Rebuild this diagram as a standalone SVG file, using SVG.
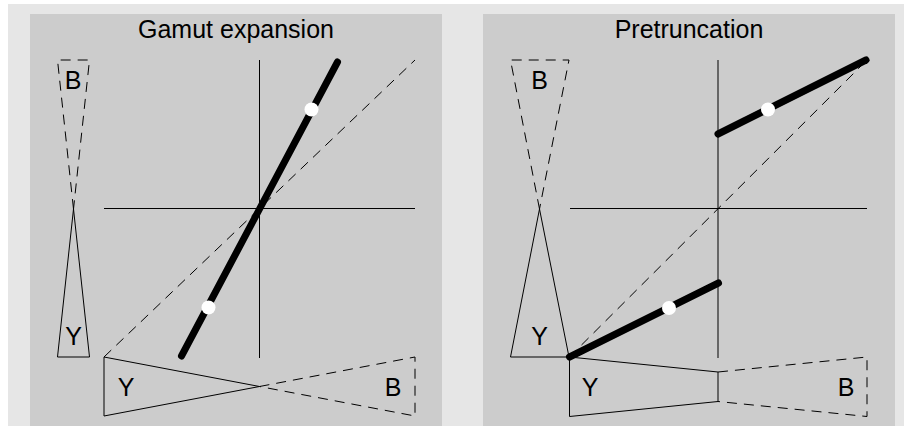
<svg xmlns="http://www.w3.org/2000/svg" width="904" height="430" viewBox="0 0 904 430">
<style>
.panel{fill:#cccccc}
.thin{stroke:#000;stroke-width:1;fill:none}
.dash{stroke:#000;stroke-width:1;fill:none;stroke-dasharray:10,7}
.thick{stroke:#000;stroke-width:7;stroke-linecap:round;fill:none}
.dot{fill:#fff}
text{font-family:"Liberation Sans",Arial,sans-serif;font-size:25px;fill:#000;text-anchor:middle}
</style>
<rect x="0" y="0" width="904" height="430" fill="#ffffff"/>
<rect x="8" y="4" width="896" height="422" fill="#e6e6e6"/>
<g id="panel-gamut-expansion">
<rect class="panel" x="30" y="14" width="412" height="412"/>
<text x="236" y="38">Gamut expansion</text>
<g id="axes-left">
<line class="thin" x1="259.5" y1="60" x2="259.5" y2="358"/>
<line class="thin" x1="104" y1="208.5" x2="415" y2="208.5"/>
</g>
<g id="vert-hourglass-left">
<polygon class="thin" points="73.5,209 57.5,357 89.5,357"/>
<polygon class="dash" points="73.5,209 57.5,60 89.5,60"/>
<text x="73" y="89">B</text>
<text x="73.5" y="345">Y</text>
</g>
<g id="horiz-bowtie-left">
<polygon class="thin" points="259.5,386.5 104,357 104,416"/>
<polygon class="dash" points="259.5,386.5 415,357 415,416"/>
<text x="126" y="396">Y</text>
<text x="393" y="396">B</text>
</g>
<g id="connectors-left">
<line class="dash" x1="104" y1="357" x2="415" y2="60"/>
<line class="thick" x1="181.5" y1="356" x2="337.5" y2="62"/>
<circle class="dot" cx="311.5" cy="109.5" r="7"/>
<circle class="dot" cx="208.5" cy="307.5" r="7"/>
</g>
</g>
<g id="panel-pretruncation">
<rect class="panel" x="483" y="14" width="412" height="412"/>
<text x="689" y="38">Pretruncation</text>
<g id="axes-right">
<line class="thin" x1="718" y1="60" x2="718" y2="358"/>
<line class="thin" x1="570" y1="208.5" x2="867" y2="208.5"/>
</g>
<g id="vert-hourglass-right">
<polygon class="thin" points="539.5,209 510.5,357 569,357"/>
<polygon class="dash" points="539.5,209 510.5,60 569,60"/>
<text x="539.5" y="89">B</text>
<text x="539.5" y="345">Y</text>
</g>
<g id="horiz-bowtie-right">
<polygon class="thin" points="569.5,357 718,372 718,401.5 569.5,416.5"/>
<polyline class="dash" points="718,372 867,357 867,416.5 718,401.5"/>
<text x="590" y="396">Y</text>
<text x="846" y="396">B</text>
</g>
<g id="connectors-right">
<line class="dash" x1="569.5" y1="357" x2="867" y2="60"/>
<line class="thick" x1="718" y1="134" x2="866" y2="60"/>
<line class="thick" x1="569.5" y1="357" x2="718.5" y2="283"/>
<circle class="dot" cx="768" cy="109.5" r="7"/>
<circle class="dot" cx="669" cy="308" r="7"/>
</g>
</g>
</svg>
